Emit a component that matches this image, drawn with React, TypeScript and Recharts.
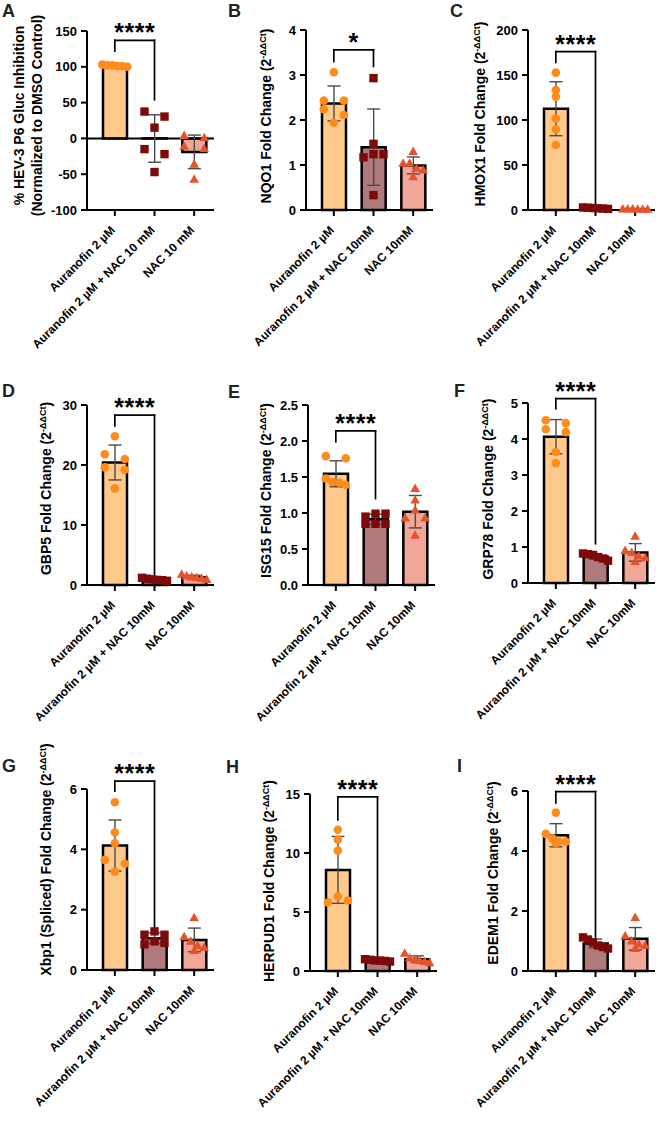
import {
  Bar,
  Cell,
  ComposedChart,
  ErrorBar,
  ReferenceLine,
  Scatter,
  XAxis,
  YAxis,
} from "recharts";

const FONT = '"Liberation Sans", Arial, Helvetica, sans-serif';

// treatment groups
const groupsA = ["Auranofin 2 µM", "Auranofin 2 µM + NAC 10 mM", "NAC 10 mM"];
const groups = ["Auranofin 2 µM", "Auranofin 2 µM + NAC 10mM", "NAC 10mM"];

const barFills = ["#FFC98C", "#B07A7C", "#F0A797"];
const dotFills = ["#FF8C1A", "#7D0A0A", "#E5532B"];

// replicates per group: [Auranofin, Auranofin + NAC, NAC]
const hevInhibition = [
  [103, 102, 102, 101, 101, 100],
  [37.5, 30.5, 15, -15, -22, -47],
  [4, 1, -11, -14, -36, -57],
];
const nqo1 = [
  [3.06, 2.43, 2.43, 2.24, 2.11, 1.94],
  [2.93, 1.47, 1.24, 1.24, 1.17, 0.33],
  [1.3, 1.04, 1.04, 0.93, 0.89, 0.74],
];
const hmox1 = [
  [152.6, 133.3, 126, 101.5, 89.6, 72.2],
  [2.8, 2.5, 2.2, 1.9, 1.6, 1.2],
  [1.2, 1.1, 1.0, 0.95, 0.9, 0.8],
];
const gbp5 = [
  [24.8, 21.8, 21, 19.6, 19.2, 16.1],
  [1.2, 1.05, 0.95, 0.85, 0.8, 0.7],
  [1.8, 1.5, 1.35, 1.2, 1.1, 0.9],
];
const isg15 = [
  [1.79, 1.76, 1.48, 1.43, 1.42, 1.39],
  [0.99, 0.99, 0.95, 0.85, 0.85, 0.85],
  [1.34, 1.18, 1.04, 0.93, 0.93, 0.69],
];
const grp78 = [
  [4.52, 4.44, 4.27, 4.19, 3.64, 3.33],
  [0.82, 0.8, 0.78, 0.72, 0.68, 0.62],
  [1.3, 0.9, 0.85, 0.75, 0.7, 0.6],
];
const xbp1 = [
  [5.56, 4.56, 4.2, 3.65, 3.52, 3.26],
  [1.28, 1.17, 1.17, 0.95, 0.9, 0.85],
  [1.73, 1.1, 0.95, 0.8, 0.75, 0.65],
];
const herpud1 = [
  [11.97, 11.13, 10.2, 6.32, 5.98, 5.81],
  [1.0, 0.95, 0.9, 0.88, 0.85, 0.8],
  [1.5, 1.1, 1.0, 0.9, 0.8, 0.7],
];
const edem1 = [
  [5.28, 4.57, 4.42, 4.31, 4.31, 4.26],
  [1.12, 1.05, 0.95, 0.85, 0.8, 0.75],
  [1.78, 1.17, 1.0, 0.9, 0.85, 0.75],
];

const hevTicks = [-100, -50, 0, 50, 100, 150];
const nqo1Ticks = [0, 1, 2, 3, 4];
const hmox1Ticks = [0, 50, 100, 150, 200];
const gbp5Ticks = [0, 10, 20, 30];
const isg15Ticks = [0, 0.5, 1, 1.5, 2, 2.5];
const grp78Ticks = [0, 1, 2, 3, 4, 5];
const xbp1Ticks = [0, 2, 4, 6];
const herpud1Ticks = [0, 5, 10, 15];
const edem1Ticks = [0, 2, 4, 6];

// significance brackets: [bar height, left leg end, right leg end]
const hevBracket = [137, 122, 54];
const nqo1Bracket = [3.56, 3.3, 3.19];
const hmox1Bracket = [176, 164, 6];
const gbp5Bracket = [28.3, 26.5, 1.4];
const isg15Bracket = [2.14, 1.99, 1.2];
const grp78Bracket = [5.12, 4.84, 1.09];
const xbp1Bracket = [6.26, 5.93, 1.3];
const herpud1Bracket = [14.75, 12.8, 1.2];
const edem1Bracket = [5.98, 5.6, 1.1];

type PanelSpec = {
  letter: string;
  gene: string;
  values: number[][];
  cats: string[];
  ticks: number[];
  bracket: number[];
  stars: string;
  fmt?: (v: number) => string;
  col: number;
  row: number;
  axisX: number;
  plotTop: number;
  plotBottom: number;
  titleDx: number;
  titleDy: number;
  letterX: number;
  letterY: number;
};

const panels: PanelSpec[] = [
  { letter: "A", gene: "", values: hevInhibition, cats: groupsA, ticks: hevTicks, bracket: hevBracket, stars: "****", col: 0, row: 0, axisX: 87, plotTop: 31, plotBottom: 210, titleDx: 68, titleDy: -5, letterX: 2, letterY: 17 },
  { letter: "B", gene: "NQO1", values: nqo1, cats: groups, ticks: nqo1Ticks, bracket: nqo1Bracket, stars: "*", col: 1, row: 0, axisX: 306, plotTop: 30, plotBottom: 210, titleDx: 40, titleDy: -4, letterX: 228, letterY: 17 },
  { letter: "C", gene: "HMOX1", values: hmox1, cats: groups, ticks: hmox1Ticks, bracket: hmox1Bracket, stars: "****", col: 2, row: 0, axisX: 528, plotTop: 30, plotBottom: 210, titleDx: 47.5, titleDy: -6, letterX: 450, letterY: 17 },
  { letter: "D", gene: "GBP5", values: gbp5, cats: groups, ticks: gbp5Ticks, bracket: gbp5Bracket, stars: "****", col: 0, row: 1, axisX: 87, plotTop: 405, plotBottom: 585, titleDx: 41, titleDy: -6.5, letterX: 2, letterY: 397 },
  { letter: "E", gene: "ISG15", values: isg15, cats: groups, ticks: isg15Ticks, bracket: isg15Bracket, stars: "****", fmt: (v) => v.toFixed(1), col: 1, row: 1, axisX: 308, plotTop: 405, plotBottom: 585, titleDx: 42, titleDy: -4.5, letterX: 228, letterY: 398 },
  { letter: "F", gene: "GRP78", values: grp78, cats: groups, ticks: grp78Ticks, bracket: grp78Bracket, stars: "****", col: 2, row: 1, axisX: 528, plotTop: 403, plotBottom: 583, titleDx: 39.5, titleDy: -4, letterX: 454, letterY: 397 },
  { letter: "G", gene: "Xbp1 (Spliced)", values: xbp1, cats: groups, ticks: xbp1Ticks, bracket: xbp1Bracket, stars: "****", col: 0, row: 2, axisX: 87, plotTop: 789, plotBottom: 970, titleDx: 41, titleDy: -20, letterX: 2, letterY: 772 },
  { letter: "H", gene: "HERPUD1", values: herpud1, cats: groups, ticks: herpud1Ticks, bracket: herpud1Bracket, stars: "****", col: 1, row: 2, axisX: 310, plotTop: 794, plotBottom: 971, titleDx: 41, titleDy: -1.5, letterX: 226, letterY: 773 },
  { letter: "I", gene: "EDEM1", values: edem1, cats: groups, ticks: edem1Ticks, bracket: edem1Bracket, stars: "****", col: 2, row: 2, axisX: 528, plotTop: 791, plotBottom: 971, titleDx: 34.5, titleDy: -8, letterX: 457, letterY: 772 },
];

const mean = (v: number[]) => v.reduce((a, b) => a + b, 0) / v.length;
const sd = (v: number[]) => {
  const m = mean(v);
  return Math.sqrt(v.reduce((a, b) => a + (b - m) * (b - m), 0) / (v.length - 1));
};

// horizontal spread of replicate dots, by size of an overlapping cluster
const spreads: Record<number, number[]> = {
  1: [0],
  2: [-10, 10],
  3: [0, 10, -10],
  4: [-10, -3.5, 3.5, 10],
  5: [-10, -3.5, 3.5, 10, 0],
  6: [-12.5, -7.5, -2.5, 2.5, 7.5, 12.5],
};

function swarm(vals: number[], pxPerUnit: number) {
  const order = vals.map((_, i) => i).sort((a, b) => vals[b] - vals[a]);
  const offs = vals.map(() => 0);
  let cluster = [order[0]];
  const flush = () => cluster.forEach((idx, j) => (offs[idx] = spreads[cluster.length][j]));
  for (let j = 1; j < order.length; j++) {
    const gap = (vals[order[j - 1]] - vals[order[j]]) * pxPerUnit;
    if (gap < 6) cluster.push(order[j]);
    else {
      flush();
      cluster = [order[j]];
    }
  }
  flush();
  return offs;
}

const XTick = (props: any) => {
  const { x, y, payload } = props;
  return (
    <text
      transform={`translate(${x - 2},${y + 10}) rotate(-45)`}
      textAnchor="end"
      dy="0.35em"
      fontFamily={FONT}
      fontWeight={700}
      fontSize={12}
      fill="#000"
    >
      {payload.value}
    </text>
  );
};

function Mark({ s, k, cats }: { s: any; k: number; cats: string[] }) {
  const row = s.payload ?? s;
  if (s.cx == null || s.cy == null) return null;
  const g = cats.indexOf(row.name);
  const x = s.cx + (row[`o${k}`] ?? 0);
  const y = s.cy;
  if (g === 0) return <circle cx={x} cy={y} r={4.3} fill={dotFills[0]} />;
  if (g === 1) return <rect x={x - 4.2} y={y - 4.2} width={8.4} height={8.4} fill={dotFills[1]} />;
  return <path d={`M${x},${y - 5}L${x + 4.8},${y + 3.5}L${x - 4.8},${y + 3.5}Z`} fill={dotFills[2]} />;
}

const slots = [0, 1, 2, 3, 4, 5];

function Panel({ p }: { p: PanelSpec }) {
  const left = p.col * 221;
  const top = p.row * 370;
  const H = 384;
  const yw = 60;
  const W = 127;
  const plotH = p.plotBottom - p.plotTop;
  const xh = H - (p.plotBottom - top);
  const margin = {
    top: p.plotTop - top,
    left: p.axisX - left - yw,
    right: 221 - (p.axisX - left) - W,
    bottom: 0,
  };
  const lo = p.ticks[0];
  const hi = p.ticks[p.ticks.length - 1];
  const ppu = plotH / (hi - lo);

  const rows = p.cats.map((name, g) => {
    const vals = p.values[g];
    const offs = swarm(vals, ppu);
    const row: Record<string, any> = { name, mean: mean(vals), sd: sd(vals) };
    vals.forEach((v, k) => {
      row[`p${k}`] = v;
      row[`o${k}`] = offs[k];
    });
    return row;
  });

  const axisStyle = { stroke: "#000", strokeWidth: 2 };
  const bracketLine = {
    stroke: "#000",
    strokeWidth: 1.7,
    strokeLinecap: "square" as const,
    ifOverflow: "visible" as const,
  };
  const [c0, c1] = p.cats;
  const [bt, bl, br] = p.bracket;

  return (
    <div style={{ position: "absolute", left, top }}>
      <ComposedChart width={221} height={H} data={rows} margin={margin}>
        <XAxis
          dataKey="name"
          type="category"
          interval={0}
          allowDuplicatedCategory={false}
          tick={(t: any) => <XTick {...t} />}
          tickSize={6}
          tickMargin={2}
          height={xh}
          axisLine={axisStyle}
          tickLine={axisStyle}
          padding={{ left: 8, right: 0 }}
        />
        <YAxis
          type="number"
          domain={[lo, hi]}
          ticks={p.ticks}
          interval={0}
          width={yw}
          tickSize={6}
          tickMargin={4}
          axisLine={axisStyle}
          tickLine={axisStyle}
          tick={{ fill: "#000", fontSize: 13, fontWeight: 700, fontFamily: FONT }}
          tickFormatter={p.fmt ?? ((v: number) => String(v))}
        />
        {lo < 0 && <ReferenceLine y={0} stroke="#000" strokeWidth={2} />}
        <Bar dataKey="mean" barSize={24} stroke="#000" strokeWidth={2.5} isAnimationActive={false}>
          {rows.map((r, i) => (
            <Cell key={r.name} fill={barFills[i]} />
          ))}
          <ErrorBar dataKey="sd" width={6.5} stroke="#4a4a4a" strokeWidth={1.4} direction="y" />
        </Bar>
        {slots.map((k) => (
          <Scatter
            key={k}
            dataKey={`p${k}`}
            isAnimationActive={false}
            shape={(s: any) => <Mark s={s} k={k} cats={p.cats} />}
          />
        ))}
        <ReferenceLine segment={[{ x: c0, y: bl }, { x: c0, y: bt }]} {...bracketLine} />
        <ReferenceLine
          segment={[{ x: c0, y: bt }, { x: c1, y: bt }]}
          {...bracketLine}
          label={{
            value: p.stars,
            position: "top",
            offset: -1,
            fill: "#000",
            fontSize: 25,
            fontWeight: 700,
            fontFamily: FONT,
            letterSpacing: 0.5,
          }}
        />
        <ReferenceLine segment={[{ x: c1, y: bt }, { x: c1, y: br }]} {...bracketLine} />
      </ComposedChart>
    </div>
  );
}

function Title({ p }: { p: PanelSpec }) {
  const cy = (p.plotTop + p.plotBottom) / 2 + p.titleDy;
  if (p.letter === "A") {
    return (
      <g fontSize={14} fontWeight={700} fill="#000">
        <text transform={`translate(${p.axisX - p.titleDx},${cy}) rotate(-90)`} textAnchor="middle" dy="0.35em">
          % HEV-3 P6 Gluc Inhibition
        </text>
        <text transform={`translate(${p.axisX - 50},${cy}) rotate(-90)`} textAnchor="middle" dy="0.35em">
          (Normalized to DMSO Control)
        </text>
      </g>
    );
  }
  return (
    <text
      transform={`translate(${p.axisX - p.titleDx},${cy}) rotate(-90)`}
      textAnchor="middle"
      fontSize={14}
      fontWeight={700}
      fill="#000"
    >
      <tspan dy="0.35em">{p.gene} Fold Change (2</tspan>
      <tspan fontSize={9} dy={-5}>-ΔΔCt</tspan>
      <tspan dy={5}>)</tspan>
    </text>
  );
}

export default function App() {
  return (
    <div style={{ position: "absolute", left: 0, top: 0, width: 663, height: 1124, background: "#fff" }}>
      {panels.map((p) => (
        <Panel key={p.letter} p={p} />
      ))}
      <svg
        width={663}
        height={1124}
        fontFamily={FONT}
        style={{ position: "absolute", left: 0, top: 0, pointerEvents: "none" }}
      >
        {panels.map((p) => (
          <g key={p.letter}>
            <text x={p.letterX} y={p.letterY} fontSize={18} fontWeight={700} fill="#222">
              {p.letter}
            </text>
            <Title p={p} />
          </g>
        ))}
      </svg>
    </div>
  );
}
